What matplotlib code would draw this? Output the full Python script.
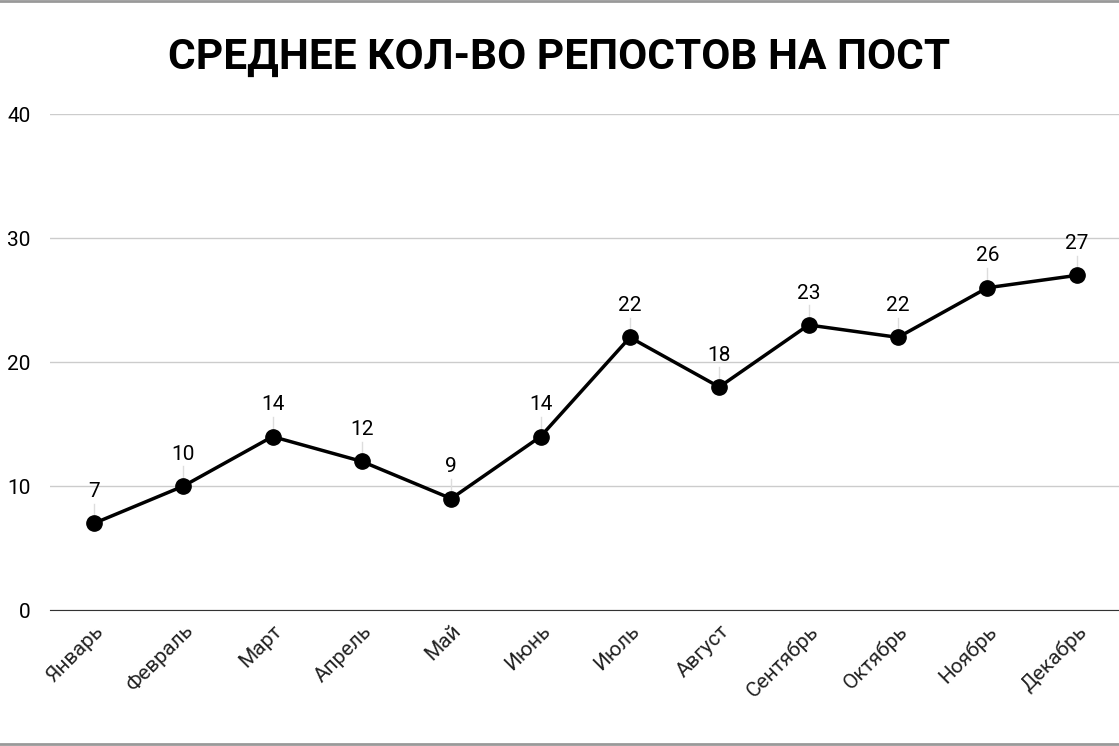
import matplotlib.pyplot as plt
from matplotlib.lines import Line2D

# ---------------------- DATA ----------------------
months = ["Январь", "Февраль", "Март", "Апрель", "Май", "Июнь",
          "Июль", "Август", "Сентябрь", "Октябрь", "Ноябрь", "Декабрь"]
reposts = [7, 10, 14, 12, 9, 14, 22, 18, 23, 22, 26, 27]
y_ticks = [0, 10, 20, 30, 40]

plt.rcParams["font.family"] = "Roboto"

fig = plt.figure(figsize=(11.19, 7.46), dpi=100)
ax = fig.add_axes([0.0447, 0.182, 0.955, 0.665])

x = list(range(len(months)))
ax.plot(x, reposts, color="black", lw=2.5, marker="o", ms=11, zorder=3)

# data labels with faint leader lines
for xi, v in zip(x, reposts):
    ax.plot([xi, xi], [v, v + 1.6], color="#dddddd", lw=1, zorder=1)
    ax.text(xi, v + 1.8, str(v), ha="center", va="bottom", fontsize=15)

ax.set_xlim(-0.49, 11.47)
ax.set_ylim(0, 40)
ax.set_yticks(y_ticks)
ax.set_yticklabels([str(t) for t in y_ticks], fontsize=15)
ax.set_xticks(x)
ax.set_xticklabels(months, rotation=45, ha="right", rotation_mode="anchor", fontsize=15, color="#222222")
ax.tick_params(length=0, pad=8)
ax.tick_params(axis="y", pad=14)
ax.yaxis.grid(True, color="#cccccc", lw=1)
ax.set_axisbelow(True)
for s in ["top", "right", "left"]:
    ax.spines[s].set_visible(False)
ax.spines["bottom"].set_color("#333333")
ax.spines["bottom"].set_zorder(2)

fig.text(0.5, 0.923, "СРЕДНЕЕ КОЛ-ВО РЕПОСТОВ НА ПОСТ", ha="center", va="center",
         fontsize=30.5, fontweight="bold")

# gray frame lines top and bottom
fig.add_artist(Line2D([0, 1], [0.998, 0.998], color="#999999", lw=2, transform=fig.transFigure))
fig.add_artist(Line2D([0, 1], [0.003, 0.003], color="#999999", lw=2, transform=fig.transFigure))

fig.savefig("out.png", dpi=100)
